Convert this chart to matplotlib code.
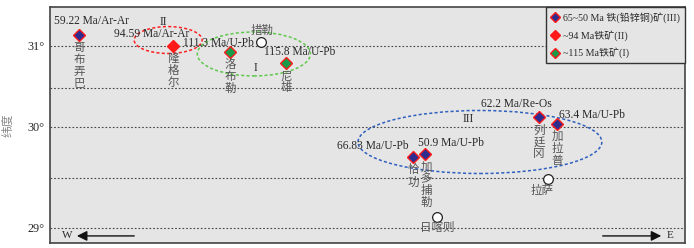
import numpy as np
import matplotlib

matplotlib.use("Agg")
import matplotlib.pyplot as plt
from matplotlib.lines import Line2D
from matplotlib.patches import Ellipse

plt.rcParams["font.family"] = ["Liberation Serif", "Noto Sans CJK SC"]

# deposits: x ~ longitude (deg E), y ~ latitude
DEPOSIT_NAMES = ["哥布弄巴", "隆格尔", "洛布勒", "尼雄", "列廷冈", "加拉普", "恰功", "加多捕勒"]
DEPOSIT_LON = [81.78, 83.66, 84.80, 85.92, 90.98, 91.34, 88.46, 88.70]
DEPOSIT_LAT = [31.13, 31.00, 30.92, 30.79, 30.12, 30.04, 29.70, 29.73]
DEPOSIT_GROUP = ["III", "II", "I", "I", "III", "III", "III", "III"]
DEPOSIT_AGES = ["59.22 Ma/Ar-Ar", "94.59 Ma/Ar-Ar", "111.3 Ma/U-Pb", "115.8 Ma/U-Pb",
                "62.2 Ma/Re-Os", "63.4 Ma/U-Pb", "66.83 Ma/U-Pb", "50.9 Ma/U-Pb"]

TOWN_NAMES = ["措勒", "拉萨", "日喀则"]
TOWN_LON = [85.42, 91.16, 88.94]
TOWN_LAT = [31.04, 29.49, 29.11]

GROUPS = ["III", "II", "I"]
GROUP_LABELS = ["65~50 Ma 铁(铅锌铜)矿(III)", "~94 Ma铁矿(II)", "~115 Ma铁矿(I)"]
LAT_TICKS = [29, 30, 31]
LAT_TICK_LABELS = ["29°", "30°", "31°"]
GRID_LATS = [29, 29.5, 30, 30.5, 31]

# the original latitude axis is not evenly spaced
LAT_KNOTS = [28, 29, 29.5, 30, 30.5, 31, 32]
PIX_KNOTS = [-100, 0, 50, 101, 140, 182, 266]

GROUP_FACE = {"III": "#2e2d8f", "II": "#ff1a1a", "I": "#1b9a4a"}
BG = "#e5e5e5"
INK = "#2a2a2a"
CJK_INK = "#555555"

# label offsets (points): age label (dx, dy), name label (dx, dy)
AGE_OFFSETS = [(9, 10), (-15, 8.6), (-8.6, 6.5), (10, 8), (-16.5, 10), (25, 6), (-29, 8), (19, 8)]
NAME_OFFSETS = [(0, -5), (0, -5), (0, -5), (0, -5), (0, -5), (0, -5), (0, -5), (1, -5)]
TOWN_OFFSETS = [(1, 8), (-4, -8.5), (0, -8)]


def fwd(v):
  return np.interp(v, LAT_KNOTS, PIX_KNOTS)


def inv(v):
  return np.interp(v, PIX_KNOTS, LAT_KNOTS)


fig = plt.figure(figsize=(6.94, 2.48), dpi=100)
ax = fig.add_axes([50 / 694, 5 / 248, 635 / 694, 236 / 248])
ax.set_facecolor(BG)
ax.set_yscale("function", functions=(fwd, inv))
ax.set_xlim(81.2, 93.9)
ax.set_ylim(28.85, 31.46)

for g in GRID_LATS:
  ax.axhline(g, color="#444444", lw=0.8, ls=(0, (1.5, 1.8)), zorder=1)

ax.set_xticks([])
ax.set_yticks(LAT_TICKS)
ax.set_yticklabels(LAT_TICK_LABELS)
ax.tick_params(axis="y", length=0, pad=4, labelsize=8.8, labelcolor=INK)
ax.set_ylabel("纬度", fontsize=8.5, color="#888888", labelpad=9)
for s in ax.spines.values():
  s.set_color("#444444")
  s.set_linewidth(1.2)

# grouping ellipses (axes fraction)
ax.add_patch(Ellipse((0.186, 0.860), 0.107, 0.114, transform=ax.transAxes,
                     fill=False, ec="#ff2020", lw=1.1, ls=(0, (2, 1.5)), zorder=2))
ax.add_patch(Ellipse((0.321, 0.801), 0.178, 0.186, transform=ax.transAxes,
                     fill=False, ec="#5ec84a", lw=1.1, ls=(0, (2, 1.5)), zorder=2))
ax.add_patch(Ellipse((0.677, 0.428), 0.384, 0.267, transform=ax.transAxes,
                     fill=False, ec="#2f5fc0", lw=1.1, ls=(0, (2, 1.5)), zorder=2))
ax.text(0.179, 0.936, "II", transform=ax.transAxes, fontsize=8.5, color=INK, ha="center", va="center")
ax.text(0.323, 0.742, "I", transform=ax.transAxes, fontsize=8.5, color=INK, ha="center", va="center")
ax.text(0.658, 0.525, "III", transform=ax.transAxes, fontsize=8.5, color=INK, ha="center", va="center")

for i, name in enumerate(DEPOSIT_NAMES):
  g = DEPOSIT_GROUP[i]
  ax.plot(DEPOSIT_LON[i], DEPOSIT_LAT[i], marker="D", ms=6.2, mfc=GROUP_FACE[g],
          mec="#ff1a1a", mew=1.0, ls="none", zorder=4)
  ax.annotate(DEPOSIT_AGES[i], (DEPOSIT_LON[i], DEPOSIT_LAT[i]), xytext=AGE_OFFSETS[i],
              textcoords="offset points", ha="center", va="center", fontsize=8.3, color=INK, zorder=5)
  ax.annotate("\n".join(name), (DEPOSIT_LON[i], DEPOSIT_LAT[i]), xytext=NAME_OFFSETS[i],
              textcoords="offset points", ha="center", va="top", fontsize=8.3, color=CJK_INK,
              linespacing=1.0, zorder=5)

for i, name in enumerate(TOWN_NAMES):
  ax.plot(TOWN_LON[i], TOWN_LAT[i], marker="o", ms=7, mfc="white", mec="#222222", mew=0.9,
          ls="none", zorder=4)
  ax.annotate(name, (TOWN_LON[i], TOWN_LAT[i]), xytext=TOWN_OFFSETS[i], textcoords="offset points",
              ha="center", va="center", fontsize=8.3, color=CJK_INK, zorder=5)

# direction arrows
ax.annotate("", xy=(0.038, 0.03), xytext=(0.137, 0.03), xycoords="axes fraction",
            arrowprops=dict(arrowstyle="-|>", color="#111111", lw=1.0, mutation_scale=15))
ax.text(0.027, 0.03, "W", transform=ax.transAxes, fontsize=8, color=INK, ha="center", va="center")
ax.annotate("", xy=(0.967, 0.03), xytext=(0.866, 0.03), xycoords="axes fraction",
            arrowprops=dict(arrowstyle="-|>", color="#111111", lw=1.0, mutation_scale=15))
ax.text(0.977, 0.03, "E", transform=ax.transAxes, fontsize=8, color=INK, ha="center", va="center")

handles = [Line2D([], [], marker="D", ms=5.5, mfc=GROUP_FACE[g], mec="#ff1a1a", mew=1.0, ls="none")
           for g in GROUPS]
leg = ax.legend(handles, GROUP_LABELS, loc="upper right", borderaxespad=0, fontsize=7.2,
                frameon=True, fancybox=False, facecolor=BG, edgecolor="#333333", framealpha=1,
                handlelength=0.8, handletextpad=0.4, labelspacing=0.7, borderpad=0.5)
leg.get_frame().set_linewidth(1.0)
for t in leg.get_texts():
  t.set_color(INK)

fig.savefig("out.png", dpi=100)
